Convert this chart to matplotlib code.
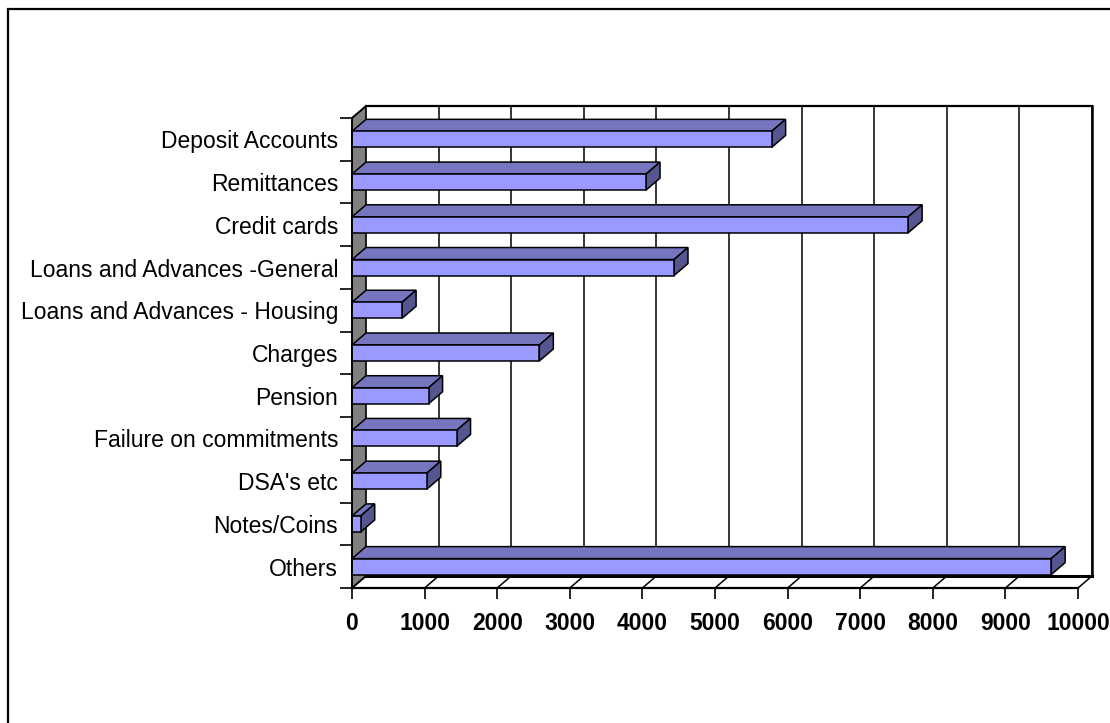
import numpy as np
import matplotlib
matplotlib.use('Agg')
import matplotlib.pyplot as plt
from matplotlib.patches import Polygon, Rectangle

categories = ['Deposit Accounts', 'Remittances', 'Credit cards',
              'Loans and Advances -General', 'Loans and Advances - Housing',
              'Charges', 'Pension', 'Failure on commitments', "DSA's etc",
              'Notes/Coins', 'Others']
values = [5780, 4050, 7660, 4435, 690, 2580, 1055, 1440, 1030, 120, 9630]
xticks = list(range(0, 10001, 1000))

plt.rcParams['font.family'] = ['Liberation Sans', 'DejaVu Sans']

fig = plt.figure(figsize=(11.1, 7.23), dpi=100)
# frame round the chart (only top and left show in the crop)
fig.add_artist(Rectangle((8/1110, -0.05), 1.2, 1 - 9/723 + 0.05, transform=fig.transFigure,
                         fill=False, ec='black', lw=1.6))

ax = fig.add_axes([352/1110, 1 - 588/723, 726/1110, 470/723])
ax.set_xlim(0, 10000)
ax.set_ylim(10.5, -0.5)

# depth offset in data units (about 14 px right, 12 px up)
DX = 14 / 72.6 * 1000
DY = 12 / (470 / 11)
y = np.arange(len(categories))
h = 0.375

# side wall
ax.add_patch(Polygon([(0, -0.5), (DX, -0.5 - DY), (DX, 10.5 - DY), (0, 10.5)],
                     closed=True, fc='#808080', ec='black', lw=1.2, clip_on=False, zorder=1))
# back wall grid + frame
for k in xticks[1:]:
    ax.plot([k + DX, k + DX], [-0.5 - DY, 10.5 - DY], color='black', lw=1.1, clip_on=False, zorder=1)
ax.plot([DX, 10000 + DX], [-0.5 - DY, -0.5 - DY], color='black', lw=1.6, clip_on=False, zorder=1)
ax.plot([10000 + DX, 10000 + DX], [-0.5 - DY, 10.5 - DY], color='black', lw=1.8, clip_on=False, zorder=1)
# floor
ax.plot([DX, 10000 + DX], [10.5 - DY, 10.5 - DY], color='black', lw=2.2, clip_on=False, zorder=3)
for k in xticks:
    ax.plot([k, k + DX], [10.5, 10.5 - DY], color='black', lw=1.1, clip_on=False, zorder=3)
ax.plot([0, DX], [-0.5, -0.5 - DY], color='black', lw=1.1, clip_on=False, zorder=3)

# bars: top, end, front faces
for yi, v in zip(y, values):
    t = yi - h / 2
    b = yi + h / 2
    ax.add_patch(Polygon([(0, t), (v, t), (v + DX, t - DY), (DX, t - DY)], closed=True,
                         fc='#7676c0', ec='black', lw=1.1, clip_on=False, zorder=4))
    ax.add_patch(Polygon([(v, t), (v + DX, t - DY), (v + DX, b - DY), (v, b)], closed=True,
                         fc='#555590', ec='black', lw=1.1, clip_on=False, zorder=4))
ax.barh(y, values, height=h, color='#9999ff', edgecolor='black', linewidth=1.1, zorder=5, clip_on=False)

for s in ['top', 'right']:
    ax.spines[s].set_visible(False)
ax.spines['left'].set_linewidth(1.2)
ax.spines['bottom'].set_linewidth(1.6)
ax.spines['left'].set_zorder(6)
ax.spines['bottom'].set_zorder(6)

ax.set_xticks(xticks)
ax.set_xticklabels([str(t) for t in xticks], fontsize=16.5, fontweight='bold')
ax.tick_params(axis='x', direction='out', length=8, width=1.2, pad=9)

ax.set_yticks(np.arange(-0.5, 11, 1))
ax.set_yticklabels([])
ax.set_yticks(y, minor=True)
ax.set_yticklabels(categories, minor=True, fontsize=16.5)
ax.tick_params(axis='y', which='major', direction='out', length=9, width=1.2)
ax.tick_params(axis='y', which='minor', length=0, pad=10)

fig.savefig('out.png', dpi=100)
